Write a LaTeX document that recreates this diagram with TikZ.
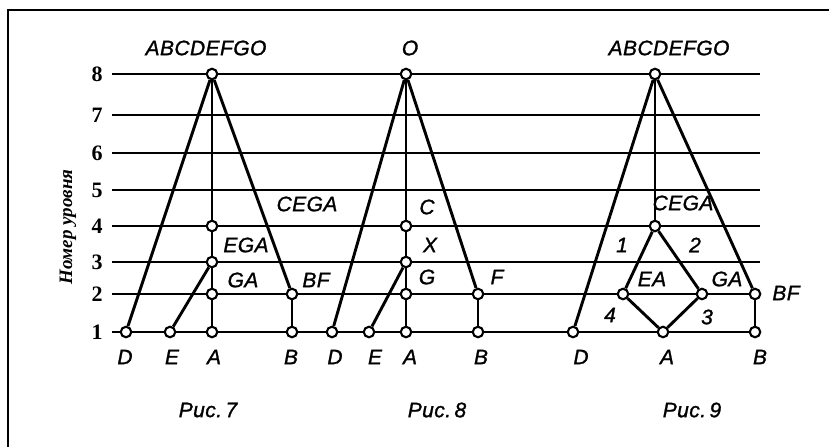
\documentclass[tikz,border=0pt]{standalone}
\usepackage{fontspec}
\setmainfont{Liberation Sans}
\newfontfamily\lblfont[LetterSpace=2,FakeBold=1.2]{Liberation Sans}
\newfontfamily\numfont{Liberation Serif}
\begin{document}
\begin{tikzpicture}[x=1pt,y=-1pt,
  frameline/.style={line width=2pt},
  gridline/.style={line width=2.9pt},
  edge/.style={line width=2.9pt},
  vtx/.style={circle, draw, fill=white, line width=2.1pt, inner sep=0pt, minimum size=10.5pt},
  lbl/.style={font=\lblfont\itshape\fontsize{21}{21}\selectfont, inner sep=0pt},
  numlbl/.style={font=\numfont\bfseries\fontsize{22}{22}\selectfont, inner sep=0pt},
  axlbl/.style={font=\numfont\bfseries\itshape\fontsize{19}{19}\selectfont, inner sep=0pt, rotate=90},
  figcap/.style={font=\lblfont\itshape\fontsize{21}{21}\selectfont, inner sep=0pt}]
\useasboundingbox (0,0) rectangle (829,447);
% frame
\coordinate (fTL) at (8,10);
\coordinate (fTR) at (829,10);
\coordinate (fBL) at (8,447);
\draw[frameline] (fTR) -- (fTL) -- (fBL);
% levels
\foreach \i/\y in {1/332,2/294,3/262,4/226,5/190,6/153,7/115,8/74}{
  \coordinate (ls\i) at (112,\y);
  \coordinate (le\i) at (760,\y);
  \draw[gridline] (ls\i) -- (le\i);
  \node[numlbl] (n\i) at (97,\y) {\i};
}
\node[axlbl] (ax) at (68,227) {Номер уровня};
% ---------- Fig 7 ----------
\node[vtx] (t7) at (212,74) {};
\node[vtx] (a74) at (212,226) {};
\node[vtx] (a73) at (212,262) {};
\node[vtx] (a72) at (212,294) {};
\node[vtx] (a71) at (212,332) {};
\node[vtx] (d7) at (126,332) {};
\node[vtx] (e7) at (170,332) {};
\node[vtx] (b72) at (292,294) {};
\node[vtx] (b71) at (292,332) {};
\draw[edge] (t7) -- (d7);
\draw[edge] (t7) -- (b72);
\draw[edge] (t7) -- (a74);
\draw[edge] (a74) -- (a73);
\draw[edge] (a73) -- (a72);
\draw[edge] (a72) -- (a71);
\draw[edge] (e7) -- (a73);
\draw[edge] (b72) -- (b71);
\node[lbl] (l7top) at (206,48) {ABCDEFGO};
\node[lbl] (l7cega) at (307,204) {CEGA};
\node[lbl] (l7ega) at (246,245) {EGA};
\node[lbl] (l7ga) at (243,280) {GA};
\node[lbl] (l7bf) at (316,280) {BF};
\node[lbl] (l7d) at (125,357) {D};
\node[lbl] (l7e) at (172,357) {E};
\node[lbl] (l7a) at (214,357) {A};
\node[lbl] (l7b) at (291,357) {B};
\node[figcap] (c7) at (208,410) {Рис.\,7};
% ---------- Fig 8 ----------
\node[vtx] (t8) at (406,74) {};
\node[vtx] (a84) at (406,226) {};
\node[vtx] (a83) at (406,262) {};
\node[vtx] (a82) at (406,294) {};
\node[vtx] (a81) at (406,332) {};
\node[vtx] (d8) at (332,332) {};
\node[vtx] (e8) at (369,332) {};
\node[vtx] (b82) at (478,294) {};
\node[vtx] (b81) at (478,332) {};
\draw[edge] (t8) -- (d8);
\draw[edge] (t8) -- (b82);
\draw[edge] (t8) -- (a84);
\draw[edge] (a84) -- (a83);
\draw[edge] (a83) -- (a82);
\draw[edge] (a82) -- (a81);
\draw[edge] (e8) -- (a83);
\draw[edge] (b82) -- (b81);
\node[lbl] (l8top) at (410,48) {O};
\node[lbl] (l8c) at (427,207) {C};
\node[lbl] (l8x) at (430,245) {X};
\node[lbl] (l8g) at (427,277) {G};
\node[lbl] (l8f) at (497,277) {F};
\node[lbl] (l8d) at (335,357) {D};
\node[lbl] (l8e) at (375,357) {E};
\node[lbl] (l8a) at (410,357) {A};
\node[lbl] (l8b) at (481,357) {B};
\node[figcap] (c8) at (437,410) {Рис.\,8};
% ---------- Fig 9 ----------
\node[vtx] (t9) at (655,74) {};
\node[vtx] (c9) at (655,226) {};
\node[vtx] (ea9) at (623,294) {};
\node[vtx] (ga9) at (702,294) {};
\node[vtx] (a9) at (663,332) {};
\node[vtx] (d9) at (573,332) {};
\node[vtx] (b92) at (755,294) {};
\node[vtx] (b91) at (755,332) {};
\draw[edge] (t9) -- (d9);
\draw[edge] (t9) -- (b92);
\draw[edge] (t9) -- (c9);
\draw[edge] (c9) -- (ea9);
\draw[edge] (c9) -- (ga9);
\draw[edge] (ea9) -- (a9);
\draw[edge] (ga9) -- (a9);
\draw[edge] (b92) -- (b91);
\node[lbl] (l9top) at (669,48) {ABCDEFGO};
\node[lbl] (l9cega) at (683,203) {CEGA};
\node[lbl] (l91) at (622,245) {1};
\node[lbl] (l92) at (695,245) {2};
\node[lbl] (l9ea) at (652,279) {EA};
\node[lbl] (l9ga) at (727,279) {GA};
\node[lbl] (l9bf) at (786,293) {BF};
\node[lbl] (l94) at (610,315) {4};
\node[lbl] (l93) at (707,317) {3};
\node[lbl] (l9d) at (581,357) {D};
\node[lbl] (l9a) at (667,357) {A};
\node[lbl] (l9b) at (760,357) {B};
\node[figcap] (c9cap) at (692,410) {Рис.\,9};
\end{tikzpicture}
\end{document}
